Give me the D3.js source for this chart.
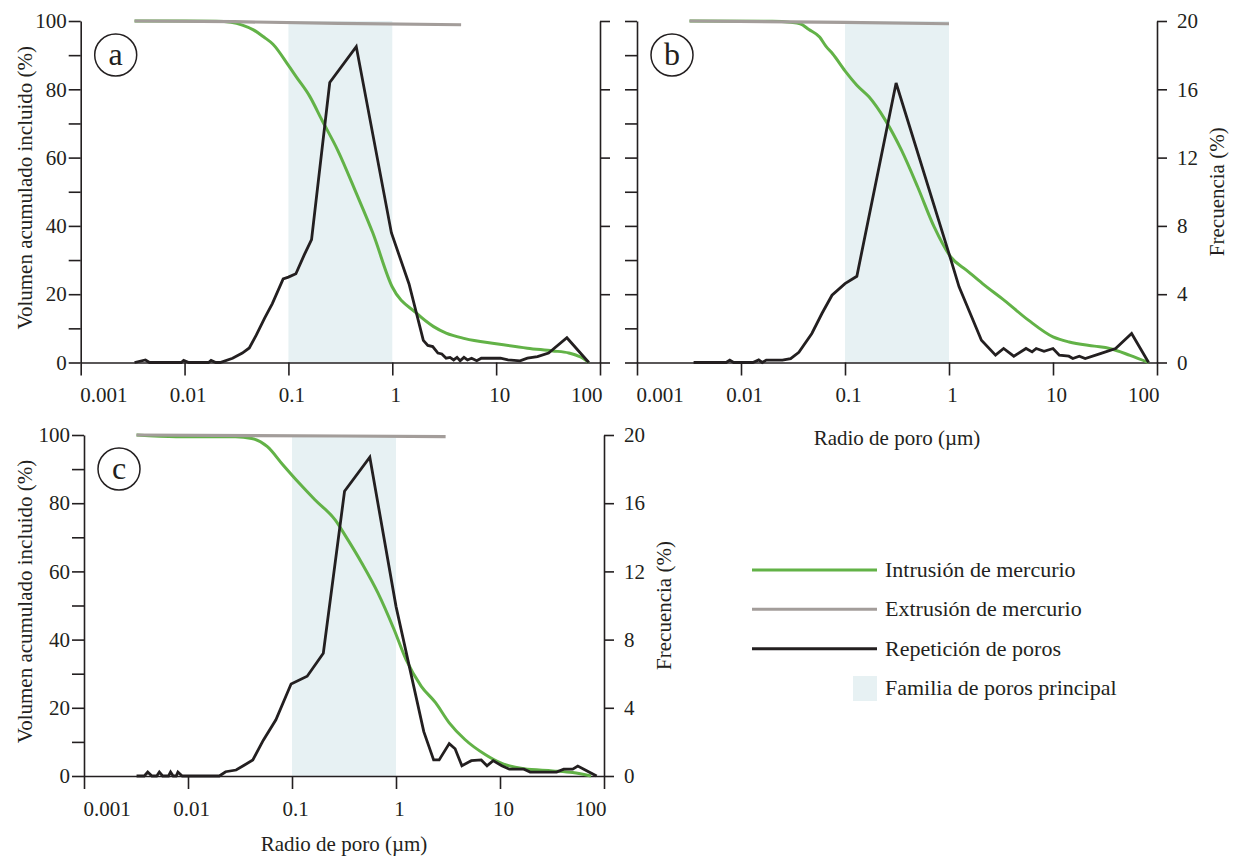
<!DOCTYPE html>
<html>
<head>
<meta charset="utf-8">
<script src="https://cdn.jsdelivr.net/npm/d3@7"></script>
<style>
  body { margin: 0; background: #fff; }
  svg { display: block; font-family: "Liberation Serif", "Times New Roman", serif; }
</style>
</head>
<body>
<svg id="chart" width="1240" height="859"></svg>
<script>
// pore radius (µm) vs cumulative volume (%) / frequency (%)
const intrusionA = [[0.0033, 100], [0.01, 100], [0.02, 99.9], [0.028, 99.6], [0.036, 98.8], [0.046, 97.4], [0.058, 95.3], [0.071, 93.2], [0.1, 87], [0.12, 83.5], [0.16, 78], [0.21, 71], [0.3, 62], [0.45, 49.6], [0.65, 37.9], [1.0, 22.1], [1.7, 14.5], [2.5, 10.5], [3.3, 8.6], [5, 7], [10, 5.5], [20, 4.2], [35, 3.4], [50, 2.8], [65, 1.6], [78, 0]];
const extrusionA = [[0.0033, 100], [0.03, 99.8], [0.3, 99.3], [4.6, 98.9]];
const frequencyA = [[0.0033, 0], [0.0042, 0.15], [0.0046, 0], [0.0093, 0], [0.0098, 0.12], [0.011, 0], [0.017, 0], [0.018, 0.12], [0.02, 0], [0.022, 0], [0.029, 0.25], [0.036, 0.55], [0.042, 0.85], [0.049, 1.6], [0.059, 2.6], [0.07, 3.45], [0.089, 4.9], [0.1, 5.0], [0.118, 5.2], [0.142, 6.3], [0.167, 7.2], [0.25, 16.4], [0.45, 18.5], [0.98, 7.6], [1.45, 4.6], [1.99, 1.3], [2.2, 1.0], [2.45, 0.93], [2.75, 0.55], [3.0, 0.5], [3.3, 0.25], [3.6, 0.3], [3.9, 0.15], [4.2, 0.3], [4.5, 0.1], [4.9, 0.3], [5.3, 0.15], [5.8, 0.25], [6.5, 0.1], [7.2, 0.25], [8.5, 0.25], [11, 0.25], [13, 0.15], [17, 0.1], [20, 0.25], [25, 0.35], [32, 0.55], [48, 1.45], [78, 0]];

const intrusionB = [[0.0032, 100], [0.02, 99.9], [0.03, 99.6], [0.037, 99.2], [0.045, 97.5], [0.057, 95.3], [0.066, 92.5], [0.076, 90.4], [0.1, 85.4], [0.13, 81.2], [0.17, 77.8], [0.245, 70.9], [0.35, 62.1], [0.5, 51.4], [0.72, 39.7], [1.04, 30.9], [1.48, 27], [2.1, 23.1], [3.4, 18.2], [5.8, 12.4], [10, 7.5], [14.3, 6.0], [25, 4.8], [35, 4.1], [55, 2.1], [83, 0]];
const extrusionB = [[0.0032, 100], [0.1, 99.6], [1.0, 99.2]];
const frequencyB = [[0.0035, 0], [0.0072, 0], [0.0078, 0.14], [0.0085, 0], [0.013, 0], [0.0148, 0.15], [0.016, 0], [0.0175, 0.14], [0.025, 0.14], [0.03, 0.23], [0.036, 0.6], [0.048, 1.7], [0.06, 2.87], [0.075, 3.94], [0.1, 4.62], [0.13, 5.05], [0.31, 16.37], [1.0, 6.38], [1.25, 4.43], [2.05, 1.3], [2.8, 0.43], [3.35, 0.82], [4.2, 0.37], [5.5, 0.82], [6.3, 0.62], [6.9, 0.82], [8.2, 0.66], [10, 0.82], [11.5, 0.43], [14.2, 0.37], [15.5, 0.23], [17.9, 0.37], [20.4, 0.23], [29, 0.53], [40, 0.82], [57, 1.7], [83, 0]];

const intrusionC = [[0.0032, 100], [0.0077, 99.5], [0.0286, 99.5], [0.041, 99.0], [0.058, 96.6], [0.082, 91.2], [0.117, 85.9], [0.166, 81], [0.26, 75.1], [0.33, 70.2], [0.47, 62.4], [0.67, 53.7], [0.96, 42.9], [1.25, 34.1], [1.75, 26.3], [2.4, 21.5], [3.25, 15.6], [4.6, 10.7], [7.2, 6.3], [10, 3.9], [17, 2.1], [32, 1.5], [50, 1.0], [75, 0]];
const extrusionC = [[0.0032, 100], [0.3, 99.7], [3.0, 99.5]];
const frequencyC = [[0.0032, 0], [0.0038, 0], [0.0041, 0.23], [0.0045, 0], [0.005, 0], [0.0053, 0.23], [0.0057, 0], [0.0065, 0], [0.0068, 0.23], [0.0072, 0], [0.0077, 0], [0.008, 0.23], [0.0088, 0], [0.02, 0], [0.023, 0.25], [0.029, 0.35], [0.034, 0.6], [0.042, 0.94], [0.053, 2.1], [0.07, 3.3], [0.098, 5.4], [0.14, 5.85], [0.2, 7.2], [0.32, 16.7], [0.56, 18.7], [1.0, 9.95], [1.85, 2.6], [2.3, 0.94], [2.6, 0.94], [3.25, 1.9], [3.7, 1.6], [4.3, 0.6], [5.3, 0.9], [6.6, 0.94], [7.5, 0.6], [8.6, 0.9], [10.4, 0.6], [12.3, 0.4], [17, 0.4], [19.5, 0.23], [35, 0.23], [41, 0.4], [50, 0.4], [56, 0.58], [64, 0.4], [85, 0]];

const mainFamily = [0.1, 1];
const xTicks = [0.001, 0.01, 0.1, 1, 10, 100];
const xTickLabels = ['0.001', '0.01', '0.1', '1', '10', '100'];
const leftTicks = [0, 10, 20, 30, 40, 50, 60, 70, 80, 90, 100];
const rightTicks = [0, 4, 8, 12, 16, 20];
const legendLabels = ['Intrusión de mercurio', 'Extrusión de mercurio', 'Repetición de poros', 'Familia de poros principal'];

const INK = '#231f20';
const GREEN = '#62b247';
const GREY = '#a39d9a';
const BAND = '#e7f1f3';

const svg = d3.select('#chart');

function styleAxis(g) {
  g.attr('font-family', null).attr('font-size', null);
  g.selectAll('.domain, .tick line').attr('stroke', INK).attr('stroke-width', 1.6);
  g.selectAll('text').attr('fill', INK).style('font-size', '21px');
}

function drawPanel(p) {
  const g = svg.append('g');
  const x = d3.scaleLog().domain([0.001, 100]).range([p.x0, p.x1]);
  const yL = d3.scaleLinear().domain([0, 100]).range([p.yBot, p.yTop]);
  const yR = d3.scaleLinear().domain([0, 20]).range([p.yBot, p.yTop]);

  // main pore family band
  g.append('rect')
    .attr('x', x(mainFamily[0]))
    .attr('y', p.yTop)
    .attr('width', x(mainFamily[1]) - x(mainFamily[0]))
    .attr('height', p.yBot - p.yTop)
    .attr('fill', BAND);

  const left = g.append('g')
    .attr('transform', `translate(${p.x0},0)`)
    .call(d3.axisLeft(yL).tickValues(leftTicks).tickSize(12).tickSizeOuter(0).tickPadding(2)
      .tickFormat((d) => (p.leftLabels && d % 20 === 0 ? d : '')));
  styleAxis(left);

  const right = g.append('g')
    .attr('transform', `translate(${p.x1},0)`)
    .call(d3.axisRight(yR).tickValues(rightTicks).tickSize(10).tickSizeOuter(0).tickPadding(10)
      .tickFormat((d) => (p.rightLabels ? d : '')));
  styleAxis(right);

  const bottom = g.append('g')
    .attr('transform', `translate(0,${p.yBot})`)
    .call(d3.axisBottom(x).tickValues(xTicks).tickSize(13).tickSizeOuter(0).tickPadding(12)
      .tickFormat((d, i) => xTickLabels[i]));
  styleAxis(bottom);
  bottom.selectAll('.tick text')
    .attr('text-anchor', (d, i) => (i === 0 ? 'start' : i === xTicks.length - 1 ? 'end' : 'middle'))
    .attr('x', (d, i) => (i === 0 ? -1 : i === xTicks.length - 1 ? 2 : 3));

  const line = (yScale, curve) => d3.line()
    .x((d) => x(d[0]))
    .y((d) => yScale(d[1]))
    .curve(curve);

  g.append('path').datum(p.intrusion)
    .attr('d', line(yL, d3.curveMonotoneX))
    .attr('fill', 'none').attr('stroke', GREEN).attr('stroke-width', 3);
  g.append('path').datum(p.extrusion)
    .attr('d', line(yL, d3.curveLinear))
    .attr('fill', 'none').attr('stroke', GREY).attr('stroke-width', 3.2);
  g.append('path').datum(p.frequency)
    .attr('d', line(yR, d3.curveLinear))
    .attr('fill', 'none').attr('stroke', INK).attr('stroke-width', 2.8)
    .attr('stroke-linejoin', 'miter');

  // panel letter
  const cx = p.x0 + 35;
  const cy = p.yTop + 34;
  g.append('circle').attr('cx', cx).attr('cy', cy).attr('r', 21)
    .attr('fill', 'none').attr('stroke', INK).attr('stroke-width', 1.5);
  g.append('text').attr('x', cx).attr('y', cy + 10)
    .attr('text-anchor', 'middle').attr('fill', INK).style('font-size', '32px')
    .text(p.letter);

  if (p.leftTitle) {
    g.append('text')
      .attr('transform', `translate(32,${(p.yTop + p.yBot) / 2 - 4}) rotate(-90)`)
      .attr('text-anchor', 'middle').attr('fill', INK).style('font-size', '21px')
      .text('Volumen acumulado incluido (%)');
  }
  if (p.rightTitle) {
    g.append('text')
      .attr('transform', `translate(${p.x1 + 67},${(p.yTop + p.yBot) / 2}) rotate(-90)`)
      .attr('text-anchor', 'middle').attr('fill', INK).style('font-size', '21px')
      .text('Frecuencia (%)');
  }
  if (p.xTitleY) {
    g.append('text')
      .attr('x', (p.x0 + p.x1) / 2).attr('y', p.xTitleY)
      .attr('text-anchor', 'middle').attr('fill', INK).style('font-size', '21px')
      .text('Radio de poro (µm)');
  }
}

drawPanel({
  x0: 80.7, x1: 600, yTop: 21, yBot: 362.5, letter: 'a',
  intrusion: intrusionA, extrusion: extrusionA, frequency: frequencyA,
  leftLabels: true, rightLabels: false, leftTitle: true, rightTitle: false, xTitleY: null,
});
drawPanel({
  x0: 637, x1: 1157, yTop: 21, yBot: 362.5, letter: 'b',
  intrusion: intrusionB, extrusion: extrusionB, frequency: frequencyB,
  leftLabels: false, rightLabels: true, leftTitle: false, rightTitle: true, xTitleY: 445,
});
drawPanel({
  x0: 84, x1: 604, yTop: 435, yBot: 776, letter: 'c',
  intrusion: intrusionC, extrusion: extrusionC, frequency: frequencyC,
  leftLabels: true, rightLabels: true, leftTitle: true, rightTitle: true, xTitleY: 851,
});

/* Legend */
const legend = svg.append('g');
const legendColors = [GREEN, GREY, INK];
const legendY = d3.scalePoint().domain(legendLabels).range([570, 688]);

legend.selectAll('line')
  .data(legendLabels.slice(0, 3))
  .enter()
  .append('line')
  .attr('x1', 752).attr('x2', 877)
  .attr('y1', (d) => legendY(d)).attr('y2', (d) => legendY(d))
  .attr('stroke', (d, i) => legendColors[i])
  .attr('stroke-width', 3);

legend.append('rect')
  .attr('x', 853).attr('y', legendY(legendLabels[3]) - 12)
  .attr('width', 24).attr('height', 25)
  .attr('fill', BAND);

legend.selectAll('text')
  .data(legendLabels)
  .enter()
  .append('text')
  .attr('x', 885)
  .attr('y', (d) => legendY(d) + 7)
  .attr('fill', INK)
  .style('font-size', '22px')
  .text((d) => d);
</script>
</body>
</html>
